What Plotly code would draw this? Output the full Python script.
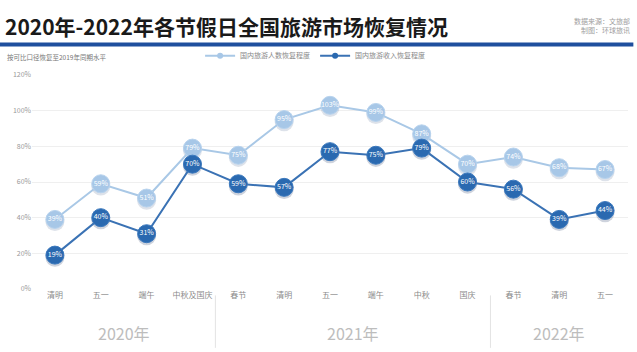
import plotly.graph_objects as go

categories = ["清明", "五一", "端午", "中秋及国庆", "春节", "清明", "五一", "端午", "中秋", "国庆", "春节", "清明", "五一"]
years = ["2020年", "2021年", "2022年"]
year_groups = [[0, 3], [4, 9], [10, 12]]
people = [39, 59, 51, 79, 75, 95, 103, 99, 87, 70, 74, 68, 67]
revenue = [19, 40, 31, 70, 59, 57, 77, 75, 79, 60, 56, 39, 44]
y_ticks = [0, 20, 40, 60, 80, 100, 120]
series_names = ["国内旅游人数恢复程度", "国内旅游收入恢复程度"]

FONT = "Noto Sans CJK SC"
x = list(range(len(categories)))
LIGHT_LINE, LIGHT_MK = "#a9c8e6", "#a7c7e7"
DARK_LINE, DARK_MK = "#3a72b4", "#2a69b0"

fig = go.Figure()
# soft shadows
for vals, col in [(people, "rgba(120,140,170,0.25)"), (revenue, "rgba(60,80,120,0.25)")]:
    fig.add_trace(go.Scatter(x=x, y=[v - 1.2 for v in vals], mode="markers",
                             marker=dict(size=19, color=col), showlegend=False, hoverinfo="skip"))

fig.add_trace(go.Scatter(
    x=x, y=people, name=series_names[0], mode="lines+markers+text", showlegend=False,
    line=dict(color=LIGHT_LINE, width=2),
    marker=dict(size=18, color=LIGHT_MK, line=dict(color="#b8d3ee", width=1)),
    text=[f"{v}%" for v in people], textposition="middle center",
    textfont=dict(color="white", size=7, family=FONT),
))
fig.add_trace(go.Scatter(
    x=x, y=revenue, name=series_names[1], mode="lines+markers+text", showlegend=False,
    line=dict(color=DARK_LINE, width=2),
    marker=dict(size=18, color=DARK_MK, line=dict(color="#3a78bd", width=1)),
    text=[f"{v}%" for v in revenue], textposition="middle center",
    textfont=dict(color="white", size=7, family=FONT),
))
# legend entries with small icons
for name, lc, mc in [(series_names[0], LIGHT_LINE, LIGHT_MK), (series_names[1], DARK_LINE, DARK_MK)]:
    fig.add_trace(go.Scatter(x=[None], y=[None], name=name, mode="lines+markers",
                             line=dict(color=lc, width=2), marker=dict(size=6, color=mc)))

shapes = [
    dict(type="line", xref="paper", yref="paper", x0=-0.054, x1=1.009, y0=1.143, y1=1.143,
         line=dict(color="#1f4f9e", width=4)),
]
for sep in [3.5, 9.5]:
    shapes.append(dict(type="line", xref="x", yref="paper", x0=sep, x1=sep, y0=-0.03, y1=-0.275,
                       line=dict(color="#e3e3e3", width=1)))

annotations = [
    dict(text="<b>2020年-2022年各节假日全国旅游市场恢复情况</b>", xref="paper", yref="paper",
         x=-0.048, y=1.23, xanchor="left", yanchor="middle", showarrow=False,
         font=dict(size=21, color="#1a1a1a", family=FONT)),
    dict(text="数据来源：文旅部<br>制图：环球旅讯", xref="paper", yref="paper",
         x=1.007, y=1.23, xanchor="right", yanchor="middle", showarrow=False, align="right",
         font=dict(size=7, color="#a0a0a0", family=FONT)),
    dict(text="按可比口径恢复至2019年同期水平", xref="paper", yref="paper",
         x=-0.046, y=1.085, xanchor="left", yanchor="middle", showarrow=False,
         font=dict(size=6.5, color="#777777", family=FONT)),
]
for yr, (a, b) in zip(years, year_groups):
    annotations.append(dict(text=yr, xref="x", yref="paper", x=(a + b) / 2, y=-0.205,
                            xanchor="center", yanchor="middle", showarrow=False,
                            font=dict(size=16, color="#bdbdbd", family=FONT)))

fig.update_layout(
    width=637, height=352, margin=dict(l=32, r=9, t=75, b=63),
    paper_bgcolor="white", plot_bgcolor="white",
    font=dict(family=FONT, color="#999999"),
    showlegend=True,
    legend=dict(orientation="h", x=0.475, xanchor="center", y=1.09, yanchor="middle",
                font=dict(size=7, color="#888888", family=FONT), itemwidth=30,
                bgcolor="rgba(0,0,0,0)"),
    xaxis=dict(range=[-0.5, 12.5], tickmode="array", tickvals=x, ticktext=categories,
               showgrid=False, zeroline=False, showline=False, ticks="",
               tickfont=dict(size=8, color="#8a8a8a", family=FONT)),
    yaxis=dict(range=[0, 120], tickmode="array", tickvals=y_ticks,
               ticktext=[f"{v}%" for v in y_ticks], showgrid=True, gridcolor="#efefef",
               gridwidth=1, zeroline=False, showline=False, ticks="",
               tickfont=dict(size=7, color="#999999", family=FONT)),
    shapes=shapes, annotations=annotations,
)
fig.write_html("out.html")
